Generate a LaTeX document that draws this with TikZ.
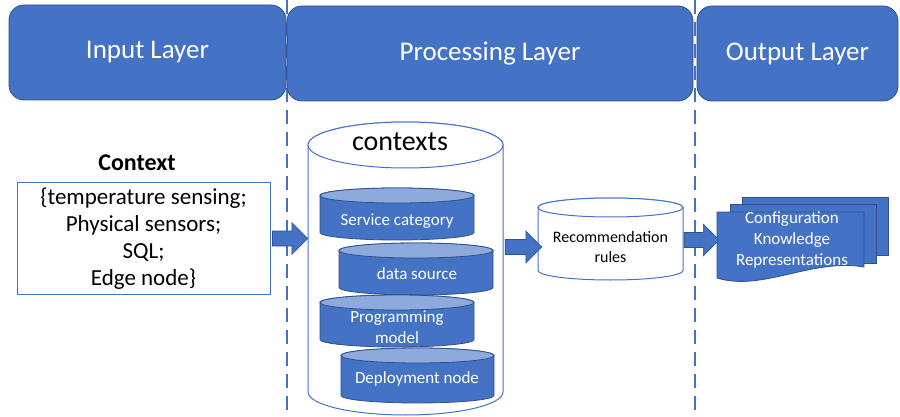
\documentclass[tikz,border=0pt]{standalone}
\usepackage{fontspec}
\setmainfont{Carlito}
\usetikzlibrary{calc}
\definecolor{myblue}{HTML}{4472C4}
\definecolor{myborder}{HTML}{2F528F}
\definecolor{mylight}{HTML}{8EA9DB}
\newcommand\mycyl[7]{%
  \pgfmathsetmacro\myrx{(#2-#1)/2}%
  \pgfmathsetmacro\mycx{(#1+#2)/2}%
  \path[#6] (#1,#3+#5) -- (#1,#4-#5)
    arc[start angle=180,end angle=360,x radius=\myrx pt,y radius=#5pt]
    -- (#2,#3+#5)
    arc[start angle=0,end angle=180,x radius=\myrx pt,y radius=#5pt] -- cycle;
  \path[#7] (\mycx,#3+#5) ellipse[x radius=\myrx pt,y radius=#5pt];
}
\begin{document}
\begin{tikzpicture}[x=1pt,y=-1pt,
  layer/.style={draw=myborder, fill=myblue, rounded corners=15pt, line width=0.8pt,
    text=white, font=\fontsize{27}{32}\selectfont, inner sep=0pt, minimum height=95pt},
  sep/.style={draw=myblue, line width=2.8pt, dash pattern=on 14pt off 8pt},
  shell/.style={draw=none, inner sep=0pt},
  ctxbox/.style={draw=myblue, line width=1pt, fill=white, align=center, inner sep=0pt,
    minimum width=253pt, minimum height=111pt, font=\fontsize{23}{27}\selectfont},
  cyltext/.style={text=white, align=center, inner sep=0pt, font=\fontsize{17}{21}\selectfont},
  whitecyl/.style={draw=myblue, fill=white, line width=1pt},
  bluebody/.style={draw=myborder, fill=myblue, line width=0.8pt},
  bluetop/.style={draw=myborder, fill=mylight, line width=0.8pt},
  page/.style={draw=myborder, fill=myblue, line width=0.8pt},
  blockarrow/.style={fill=myblue, draw=myborder, line width=0.6pt,
    to path={let \p1=(\tikztostart), \p2=(\tikztotarget) in
      (\x1,\y1+7.5pt) -- (\x2-16pt,\y1+7.5pt) -- (\x2-16pt,\y1+16pt) -- (\x2,\y1)
      -- (\x2-16pt,\y1-16pt) -- (\x2-16pt,\y1-7.5pt) -- (\x1,\y1-7.5pt) -- cycle}}
]
\useasboundingbox (0,0) rectangle (900,417);

% separators
\draw[sep] (287,0) -- (287,417);
\draw[sep] (695,0) -- (695,417);

% layer headers
\node[layer, minimum width=277pt] (inl) at (147.5,52.5) {Input Layer};
\node[layer, minimum width=406pt] (proc) at (490,53.5) {Processing Layer};
\node[layer, minimum width=201pt] (outl) at (797.5,53.5) {Output Layer};

% input context
\node[font=\bfseries\fontsize{24}{28}\selectfont, inner sep=0pt] (ctxtitle) at (137,163) {Context};
\node[ctxbox] (ctx) at (143.5,238.5) {\{temperature sensing;\\Physical sensors;\\SQL;\\Edge node\}};

% big cylinder
\mycyl{308}{503}{122}{415}{23}{whitecyl}{whitecyl}
\node[shell, minimum width=195pt, minimum height=293pt] (big) at (405.5,268.5) {};
\node[font=\fontsize{28}{32}\selectfont, inner sep=0pt] (ctxlbl) at (400,142) {contexts};

% small cylinders
\mycyl{320}{474}{188}{240}{7.5}{bluebody}{bluetop}
\mycyl{339}{493}{243}{295}{7.5}{bluebody}{bluetop}
\mycyl{320}{474}{295}{347}{7.5}{bluebody}{bluetop}
\mycyl{341}{494}{348}{403}{7.5}{bluebody}{bluetop}
\node[cyltext] (svc) at (397,221) {Service category};
\node[cyltext] (dsrc) at (417,274) {data source};
\node[cyltext] (pmod) at (397,327) {Programming\\model};
\node[cyltext] (dnode) at (417,379) {Deployment node};

% recommendation rules
\mycyl{538}{683}{198}{280}{9.5}{whitecyl}{whitecyl}
\node[shell, align=center, minimum width=145pt, minimum height=64pt,
  font=\fontsize{16}{20}\selectfont] (rec) at (610.5,247) {Recommendation\\rules};

% documents
\draw[page] (742,197) -- (888,197) -- (888,255) -- (742,255) -- cycle;
\draw[page] (730,204) -- (876,204) -- (876,263) -- (730,263) -- cycle;
\draw[page] (717,212) -- (864,212) -- (864,267)
  .. controls (812,258) and (762,292) .. (717,278) -- cycle;
\node[shell, minimum width=147pt, minimum height=56pt, text=white, align=center,
  font=\fontsize{17}{21}\selectfont] (doc) at (792,240)
  {Configuration\\Knowledge\\Representations};

% arrows
\draw[blockarrow] ([xshift=2pt]ctx.east) to (big.west |- ctx.east);
\draw[blockarrow] ($(big.east |- rec.west)+(2,0)$) to ($(rec.west)+(4,0)$);
\draw[blockarrow] ($(rec.east |- doc.west)+(1,0)$) to ($(doc.west)+(1,0)$);
\end{tikzpicture}
\end{document}
